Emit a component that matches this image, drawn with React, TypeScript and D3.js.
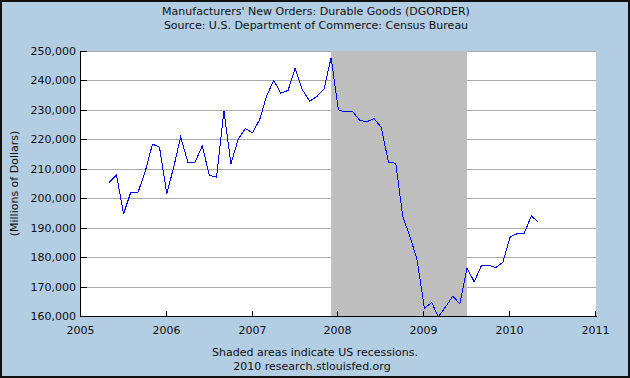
import React from "react";
import * as d3 from "d3";

const title1 = "Manufacturers' New Orders: Durable Goods (DGORDER)";
const title2 = "Source: U.S. Department of Commerce: Census Bureau";
const yAxisTitle = "(Millions of Dollars)";
const footer1 = "Shaded areas indicate US recessions.";
const footer2 = "2010 research.stlouisfed.org";

const startYear = 2005;
const startMonth = 4; // May (0-based)
const values = [
  205.4, 207.9, 194.7, 202.1, 202.1, 209.0, 218.4, 217.3,
  201.5, 211.1, 220.8, 212.2, 212.2, 217.8, 207.7, 207.2, 229.7, 211.7, 220.1, 223.7,
  222.2, 226.9, 234.6, 240.0, 235.7, 236.6, 244.2, 236.8, 233.0, 234.5, 237.1, 247.7,
  230.0, 229.3, 229.5, 226.4, 226.0, 227.0, 224.1, 212.2, 211.9, 193.7, 186.9, 179.0,
  162.6, 164.6, 159.7, 163.1, 166.7, 164.2, 176.3, 171.6, 177.2, 177.2, 176.5, 178.3,
  186.9, 188.0, 188.0, 194.0, 191.8,
].map((v) => v * 1000);

const yTicks = [160000, 170000, 180000, 190000, 200000, 210000, 220000, 230000, 240000, 250000];
const xTickYears = [2005, 2006, 2007, 2008, 2009, 2010, 2011];
const recessionStart = new Date(2007, 11, 1);
const recessionEnd = new Date(2009, 6, 1);

const W = 630;
const H = 378;
const m = { left: 81, right: 596, top: 51, bottom: 316 };
const FONT = "DejaVu Sans, Verdana, sans-serif";

export default function App() {
  const data = values.map((v, i) => ({ date: new Date(startYear, startMonth + i, 1), v }));
  const x = d3.scaleTime().domain([new Date(2005, 0, 1), new Date(2011, 0, 1)]).range([m.left, m.right]);
  const y = d3.scaleLinear().domain([160000, 250000]).range([m.bottom, m.top]);
  const line = d3
    .line<{ date: Date; v: number }>()
    .x((d) => x(d.date))
    .y((d) => y(d.v));
  const fmt = d3.format(",");

  return (
    <>
      <style>{`body{margin:0;}svg{display:block;}`}</style>
      <svg width={W} height={H} style={{ fontFamily: FONT }}>
        <rect x={0} y={0} width={W} height={H} fill="#B3CDE3" />
        <rect x={1} y={1} width={W - 2} height={H - 2} fill="none" stroke="#111" strokeWidth={2} />
        <text x={W / 2 + 1} y={15} textAnchor="middle" fontSize={11} fill="#111">{title1}</text>
        <text x={W / 2 + 1} y={29} textAnchor="middle" fontSize={11} fill="#111">{title2}</text>

        <rect x={m.left} y={m.top} width={m.right - m.left} height={m.bottom - m.top} fill="#fff" />
        {yTicks.map((t) => (
          <line key={"g" + t} x1={m.left} x2={m.right} y1={Math.round(y(t)) + 0.5} y2={Math.round(y(t)) + 0.5} stroke="#aaaaaa" strokeWidth={1} />
        ))}
        <rect
          x={x(recessionStart)}
          y={m.top}
          width={x(recessionEnd) - x(recessionStart)}
          height={m.bottom - m.top}
          fill="#BEBEBE"
        />
        <path d={line(data) || ""} fill="none" stroke="#0000FF" strokeWidth={1} shapeRendering="crispEdges" />

        {/* axes */}
        <line x1={m.left - 0.5} x2={m.left - 0.5} y1={m.top} y2={m.bottom + 1} stroke="#000" strokeWidth={1} />
        <line x1={m.left - 1} x2={m.right + 1} y1={m.bottom + 0.5} y2={m.bottom + 0.5} stroke="#000" strokeWidth={1} />
        {yTicks.map((t) => (
          <g key={"y" + t}>
            <line x1={m.left} x2={m.left + 6} y1={Math.round(y(t)) + 0.5} y2={Math.round(y(t)) + 0.5} stroke="#000" />
            <text x={m.left - 5} y={y(t) + 4} textAnchor="end" fontSize={11} fill="#111">{fmt(t)}</text>
          </g>
        ))}
        {xTickYears.map((yr) => {
          const px = Math.round(x(new Date(yr, 0, 1))) - 0.5;
          return (
            <g key={"x" + yr}>
              <line x1={px} x2={px} y1={m.bottom} y2={m.bottom - 5} stroke="#000" />
              <text x={px} y={334} textAnchor="middle" fontSize={11} fill="#111">{yr}</text>
            </g>
          );
        })}
        <text
          transform={`translate(18,${(m.top + m.bottom) / 2}) rotate(-90)`}
          textAnchor="middle"
          fontSize={11}
          fill="#111"
        >
          {yAxisTitle}
        </text>
        <text x={W / 2} y={356} textAnchor="middle" fontSize={11} fill="#111">{footer1}</text>
        <text x={W / 2 - 3} y={370} textAnchor="middle" fontSize={11} fill="#111">{footer2}</text>
      </svg>
    </>
  );
}
